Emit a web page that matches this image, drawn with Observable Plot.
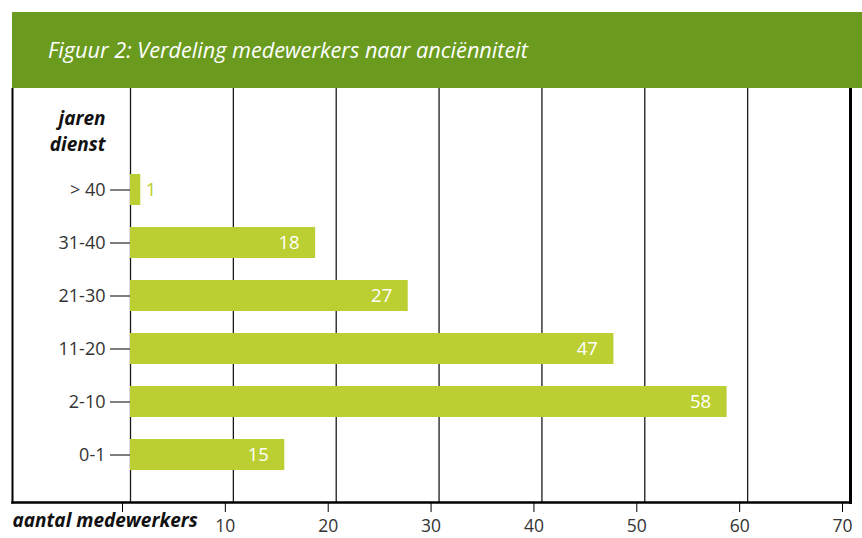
<!DOCTYPE html>
<html>
<head>
<meta charset="utf-8">
<script src="https://cdn.jsdelivr.net/npm/d3@7"></script>
<script src="https://cdn.jsdelivr.net/npm/@observablehq/plot@0.6"></script>
<style>
  html, body { margin: 0; padding: 0; background: #fff; }
  #wrap { position: relative; width: 862px; height: 538px; overflow: hidden; font-family: "Open Sans", sans-serif; }
  #header { position: absolute; left: 12px; top: 12px; width: 850px; height: 76px; background: #6a9b1f; }
  #title { position: absolute; left: 36px; top: 26px; line-height: 22px; font-size: 22px; font-style: italic; color: #fff; white-space: nowrap; transform: scaleX(0.985); transform-origin: left center; }
  #chart { position: absolute; left: 0; top: 88px; }
  #chart svg { font-family: "Open Sans", sans-serif; }
</style>
</head>
<body>
<div id="wrap">
  <div id="header"><div id="title">Figuur 2: Verdeling medewerkers naar anciënniteit</div></div>
  <div id="chart"></div>
</div>
<script>
const categories = ["> 40", "31-40", "21-30", "11-20", "2-10", "0-1"];
const values = [1, 18, 27, 47, 58, 15];
const xTicks = [0, 10, 20, 30, 40, 50, 60, 70];
const yTitle = "jaren\ndienst";
const xTitle = "aantal medewerkers";

const data = categories.map((c, i) => ({cat: c, value: values[i]}));
const barColor = "#bbcf32";

const chart = Plot.plot({
  width: 862,
  height: 450,
  marginLeft: 12,
  marginRight: 12,
  marginTop: 0,
  marginBottom: 36,
  style: {fontFamily: "Open Sans, sans-serif", background: "transparent"},
  x: {domain: [0, 70], range: [130, 850]},
  y: {domain: categories, range: [62, 406], padding: 0.42},
  marks: [
    Plot.ruleX(xTicks, {stroke: "#1a1a1a", strokeWidth: 1.3}),
    Plot.barX(data, {x: "value", y: "cat", fill: barColor}),
    Plot.frame({anchor: "left", stroke: "#000", strokeWidth: 2}),
    Plot.frame({anchor: "bottom", stroke: "#000", strokeWidth: 2.6}),
    Plot.frame({anchor: "right", stroke: "#000", strokeWidth: 3}),
    Plot.text(data.filter(d => d.value > 5), {x: "value", y: "cat", text: d => String(d.value), fill: "#fff", textAnchor: "end", dx: -16, fontSize: 18.5}),
    Plot.text(data.filter(d => d.value <= 5), {x: "value", y: "cat", text: d => String(d.value), fill: barColor, textAnchor: "start", dx: 5, fontSize: 18.5}),
    Plot.axisY({anchor: "left", dx: 118, tickSize: 20, tickPadding: 5, fontSize: 18, color: "#333", stroke: "#000", label: null}),
    Plot.axisX({anchor: "bottom", ticks: xTicks, tickSize: 10, tickPadding: 7, dx: -8, fontSize: 17.5, color: "#333", stroke: "#000", tickFormat: d => d === 0 ? "" : String(d), label: null}),
    Plot.text([yTitle], {frameAnchor: "top-left", dx: 93, dy: 41, textAnchor: "end", lineAnchor: "middle", lineHeight: 1.35, fontSize: 19, fontWeight: "bold", fontStyle: "italic", fill: "#111", text: d => d}),
    Plot.text([xTitle], {frameAnchor: "bottom-left", dx: 0, dy: 18, textAnchor: "start", lineAnchor: "middle", fontSize: 19, fontWeight: "bold", fontStyle: "italic", fill: "#111", text: d => d})
  ]
});
document.getElementById("chart").appendChild(chart);
</script>
</body>
</html>
